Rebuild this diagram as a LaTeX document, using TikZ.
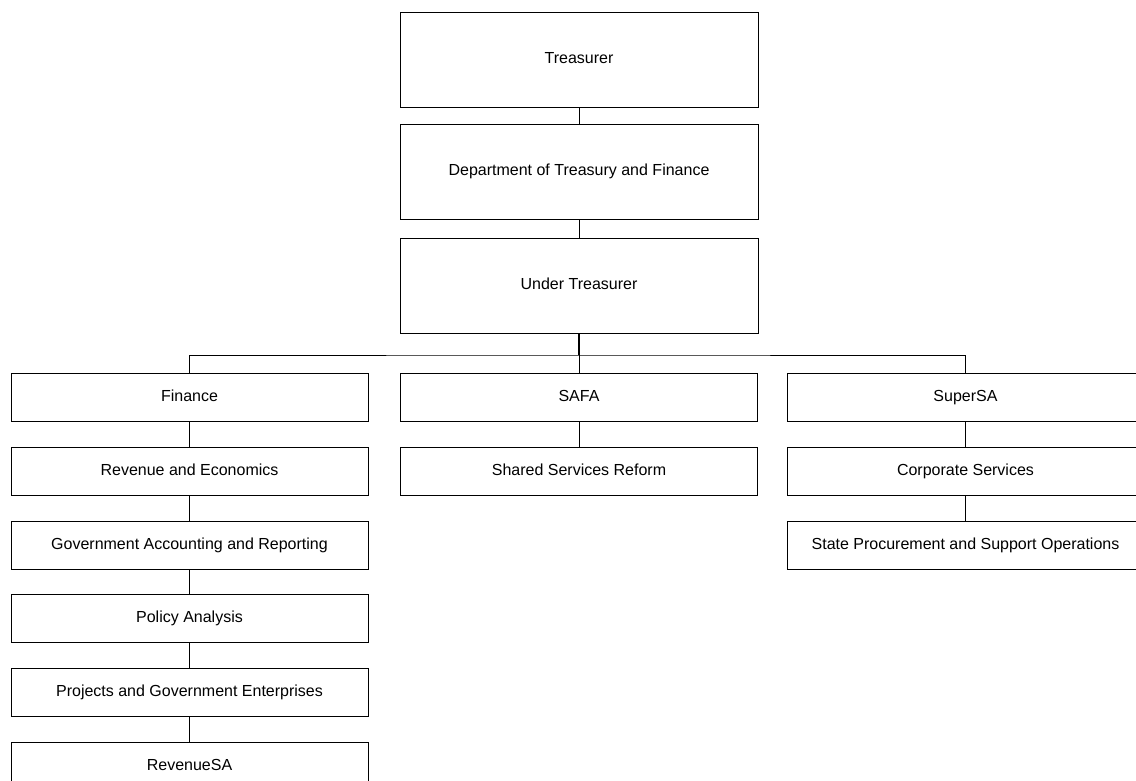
\documentclass[tikz,border=0pt]{standalone}
\usepackage{fontspec}
\setmainfont{Liberation Sans}
\begin{document}
\begin{tikzpicture}[x=1pt,y=-1pt,
  box/.style={draw=black,line width=1pt,inner sep=0pt,minimum width=357pt,minimum height=48pt,font=\fontsize{16}{19}\selectfont,fill=white,text height=11.5pt,text depth=3.4pt},
  bigbox/.style={box,minimum width=358pt,minimum height=95pt},
  link/.style={draw=black,line width=1pt}]
\useasboundingbox (0,0) rectangle (1136,780);
\clip (0,0) rectangle (1136,780);
\fill[white] (0,0) rectangle (1136,780);
% top chain
\node[bigbox] (treas) at (579,59.5) {Treasurer};
\node[bigbox] (dept) at (579,171.5) {Department of Treasury and Finance};
\node[bigbox] (under) at (579,285.5) {Under Treasurer};
% left column
\node[box] (fin) at (189.5,397) {Finance};
\node[box] (rev) at (189.5,471) {Revenue and Economics};
\node[box] (gov) at (189.5,545) {Government Accounting and Reporting};
\node[box] (pol) at (189.5,618) {Policy Analysis};
\node[box] (proj) at (189.5,692) {Projects and Government Enterprises};
\node[box] (rsa) at (189.5,766) {RevenueSA};
% middle column
\node[box] (safa) at (579,397) {SAFA};
\node[box] (ssr) at (579,471) {Shared Services Reform};
% right column
\node[box] (super) at (965.5,397) {SuperSA};
\node[box] (corp) at (965.5,471) {Corporate Services};
\node[box] (state) at (965.5,545) {State Procurement and Support Operations};
\coordinate (bus) at (579,355);
% connectors
\draw[link] (treas.south) -- (dept.north);
\draw[link] (dept.south) -- (under.north);
\draw[link,line width=1.5pt] (under.south) -- (bus);
\draw[link] (fin.north) |- (bus) -| (super.north);
\draw[link] (bus) -- (safa.north);
\draw[link] (fin.south) -- (rev.north);
\draw[link] (rev.south) -- (gov.north);
\draw[link] (gov.south) -- (pol.north);
\draw[link] (pol.south) -- (proj.north);
\draw[link] (proj.south) -- (rsa.north);
\draw[link] (safa.south) -- (ssr.north);
\draw[link] (super.south) -- (corp.north);
\draw[link] (corp.south) -- (state.north);
\end{tikzpicture}
\end{document}
